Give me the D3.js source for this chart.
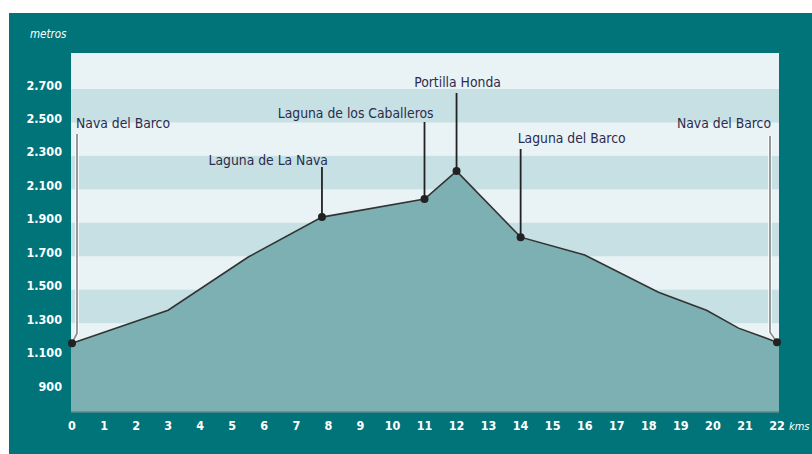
<!DOCTYPE html>
<html>
<head>
<meta charset="utf-8">
<script src="https://cdn.jsdelivr.net/npm/d3@7"></script>
<style>
  body { margin: 0; background: #fff; }
  svg text { font-family: 'DejaVu Sans Condensed', 'Liberation Sans Narrow', sans-serif; }
</style>
</head>
<body>
<div id="graph"></div>
<script>
// perfil de la ruta: km y altitud (m)
let kms = [0, 3, 5.5, 7.8, 11, 12, 14, 16, 18.3, 19.8, 20.8, 22];
let altitudes = [1180, 1377, 1695, 1934, 2042, 2209, 1814, 1707, 1485, 1377, 1270, 1186];

// paradas con nombre
let stopNames = ['Nava del Barco', 'Laguna de La Nava', 'Laguna de los Caballeros', 'Portilla Honda', 'Laguna del Barco', 'Nava del Barco'];
let stopKms = [0, 7.8, 11, 12, 14, 22];
let stopAlts = [1180, 1934, 2042, 2209, 1814, 1186];

// ejes
let yTicks = [900, 1100, 1300, 1500, 1700, 1900, 2100, 2300, 2500, 2700];
let xTicks = d3.range(0, 23);

let width = 812;
let height = 454;

let svg = d3.select('#graph')
    .append('svg')
        .attr('width', width)
        .attr('height', height);

// marco
svg.append('rect')
    .attr('x', 9).attr('y', 13)
    .attr('width', width - 9).attr('height', height - 13)
    .attr('fill', '#007478');

let plot = {left: 71, right: 779, top: 53, bottom: 412};

let x = d3.scaleLinear().domain([0, 22]).range([72, 777]);
let y = d3.scaleLinear().domain([900, 2700]).range([390, 89]);

svg.append('rect')
    .attr('x', plot.left).attr('y', plot.top)
    .attr('width', plot.right - plot.left).attr('height', plot.bottom - plot.top)
    .attr('fill', '#e9f2f4');

// bandas alternas
let bands = [[2500, 2700], [2100, 2300], [1700, 1900], [1300, 1500], [900, 1100]];
svg.selectAll('.band')
        .data(bands)
    .enter().append('rect')
        .attr('class', 'band')
        .attr('x', plot.left)
        .attr('width', plot.right - plot.left)
        .attr('y', (d) => { return y(d[1]); })
        .attr('height', (d) => { return Math.min(plot.bottom, y(d[0])) - y(d[1]); })
        .attr('fill', '#c6e0e3');

let profile = kms.map((k, i) => { return {km: k, alt: altitudes[i]}; });

// el relleno llega hasta los bordes del area de dibujo
let filled = [{km: x.invert(plot.left), alt: altitudes[0]}]
    .concat(profile)
    .concat([{km: x.invert(plot.right), alt: altitudes[altitudes.length - 1]}]);

let area = d3.area()
    .x((d) => { return x(d.km); })
    .y0(plot.bottom)
    .y1((d) => { return y(d.alt); });

svg.append('path')
    .datum(filled)
    .attr('d', area)
    .attr('fill', '#7db0b3');

svg.append('path')
    .datum(profile)
    .attr('d', d3.line().x((d) => { return x(d.km); }).y((d) => { return y(d.alt); }))
    .attr('fill', 'none')
    .attr('stroke', '#333')
    .attr('stroke-width', 1.6);

// linea inferior del area
svg.append('line')
    .attr('x1', plot.left).attr('x2', plot.right)
    .attr('y1', plot.bottom).attr('y2', plot.bottom)
    .attr('stroke', '#5e8a8c').attr('stroke-width', 1.5);

// etiquetas de paradas (posicion de texto y arranque de la guia)
let labelLayout = [
    {ty: 128, top: 134, anchor: 'start', dx: -1, side: true, sx: 77},
    {ty: 165, top: 167, anchor: 'end', dx: 6},
    {ty: 118, top: 122, anchor: 'end', dx: 9},
    {ty: 87, top: 93, anchor: 'middle', dx: 1},
    {ty: 143, top: 149, anchor: 'start', dx: -3},
    {ty: 128, top: 136, anchor: 'end', dx: 1, side: true, sx: 770}
];

let stops = stopNames.map((n, i) => {
    return {name: n, km: stopKms[i], alt: stopAlts[i], l: labelLayout[i]};
});

stops.forEach((d) => {
    let px = x(d.km), py = y(d.alt);
    if (d.l.side) {
        svg.append('path')
            .attr('d', 'M' + d.l.sx + ',' + d.l.top + 'V' + (py - 10) + 'L' + px + ',' + py)
            .attr('fill', 'none')
            .attr('stroke', '#fff').attr('stroke-width', 3.5);
        svg.append('path')
            .attr('d', 'M' + d.l.sx + ',' + d.l.top + 'V' + (py - 10) + 'L' + px + ',' + py)
            .attr('fill', 'none')
            .attr('stroke', '#8a8f91').attr('stroke-width', 1.8);
    } else {
        svg.append('line')
            .attr('x1', px).attr('x2', px)
            .attr('y1', d.l.top).attr('y2', py)
            .attr('stroke', '#222').attr('stroke-width', 1.8);
    }
    svg.append('text')
        .attr('x', (d.l.side ? d.l.sx : px) + d.l.dx)
        .attr('y', d.l.ty)
        .attr('text-anchor', d.l.anchor)
        .attr('font-size', 13.8)
        .attr('fill', '#2c2c4e')
        .text(d.name);
});

svg.selectAll('.stop')
        .data(stops)
    .enter().append('circle')
        .attr('class', 'stop')
        .attr('cx', (d) => { return x(d.km); })
        .attr('cy', (d) => { return y(d.alt); })
        .attr('r', 4)
        .attr('fill', '#222');

// ejes
let es = d3.formatLocale({decimal: ',', thousands: '.', grouping: [3], currency: ['', ' €']});
let fmt = es.format(',');

svg.selectAll('.ylab')
        .data(yTicks)
    .enter().append('text')
        .attr('class', 'ylab')
        .attr('x', 62)
        .attr('y', (d) => { return y(d) + 0.5; })
        .attr('text-anchor', 'end')
        .attr('font-size', 12.5)
        .attr('font-weight', 'bold')
        .attr('fill', '#fff')
        .text(fmt);

svg.selectAll('.xlab')
        .data(xTicks)
    .enter().append('text')
        .attr('class', 'xlab')
        .attr('x', (d) => { return x(d); })
        .attr('y', 430)
        .attr('text-anchor', 'middle')
        .attr('font-size', 12.5)
        .attr('font-weight', 'bold')
        .attr('fill', '#fff')
        .text((d) => { return d; });

svg.append('text')
    .attr('x', 30).attr('y', 38)
    .attr('font-size', 11.5)
    .attr('font-style', 'italic')
    .attr('fill', '#fff')
    .text('metros');

svg.append('text')
    .attr('x', 789).attr('y', 430)
    .attr('font-size', 11)
    .attr('font-style', 'italic')
    .attr('fill', '#fff')
    .text('kms');
</script>
</body>
</html>
